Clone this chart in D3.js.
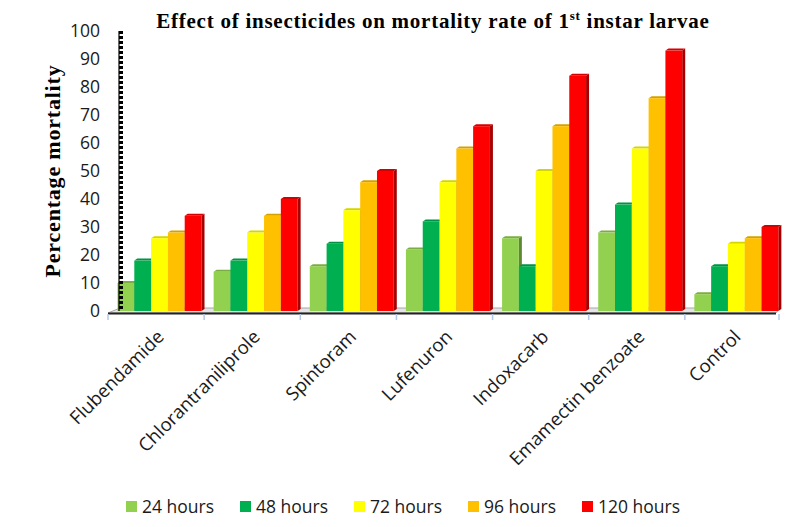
<!DOCTYPE html>
<html>
<head>
<meta charset="utf-8">
<script src="https://cdn.jsdelivr.net/npm/d3@7"></script>
<style>
  body { margin: 0; background: #fff; }
  svg { display: block; }
</style>
</head>
<body>
<script>
// data
const categories = ["Flubendamide", "Chlorantraniliprole", "Spintoram", "Lufenuron", "Indoxacarb", "Emamectin benzoate", "Control"];
const seriesNames = ["24 hours", "48 hours", "72 hours", "96 hours", "120 hours"];
const h24  = [10, 14, 16, 22, 26, 28, 6];
const h48  = [18, 18, 24, 32, 16, 38, 16];
const h72  = [26, 28, 36, 46, 50, 58, 24];
const h96  = [28, 34, 46, 58, 66, 76, 26];
const h120 = [34, 40, 50, 66, 84, 93, 30];
const yTicks = [0, 10, 20, 30, 40, 50, 60, 70, 80, 90, 100];

const seriesVals = [h24, h48, h72, h96, h120];
const colors = ["#92d050", "#00b050", "#ffff00", "#ffc000", "#ff0000"];
const sansFont = "'Open Sans', Lato, sans-serif";
const serifFont = "'Liberation Serif', 'Times New Roman', serif";

const width = 797, height = 527;
const svg = d3.select("body").append("svg")
    .attr("width", width)
    .attr("height", height);

// scales
const x = d3.scaleBand().domain(categories).range([108, 781]);
const xs = d3.scaleBand().domain(seriesNames).range([9.5, 93.5]);
const y = d3.scaleLinear().domain([0, 100]).range([311, 31]);

const dx = 3, dy = -2; // 3d depth

// floor
svg.append("path")
    .attr("d", `M108,313 L120,308 L780,308 L776,313 Z`)
    .attr("fill", "#e4e4e4")
    .attr("stroke", "#a6a6a6")
    .attr("stroke-width", 1);
svg.append("line")
    .attr("x1", 108).attr("x2", 776)
    .attr("y1", 313.5).attr("y2", 313.5)
    .attr("stroke", "#222").attr("stroke-width", 2);

// category ticks
const tickXs = categories.map(c => x(c)).concat([x.range()[1] - 2]);
svg.append("g").selectAll("line")
    .data(tickXs)
    .join("line")
    .attr("x1", d => d).attr("x2", d => d)
    .attr("y1", 314).attr("y2", 320)
    .attr("stroke", "#b4c7e7").attr("stroke-width", 1.5);

// bars
const bars = [];
categories.forEach((c, ci) => {
  seriesNames.forEach((s, si) => {
    bars.push({c, s, si, v: seriesVals[si][ci]});
  });
});

const barG = svg.append("g").selectAll("g.bar").data(bars).join("g").attr("class", "bar");

barG.each(function(d) {
  const sel = d3.select(this);
  const x0 = x(d.c) + xs(d.s);
  const w = xs.bandwidth();
  const yt = y(d.v), yb = y(0);
  const base = d3.color(colors[d.si]);
  // side face
  sel.append("path")
    .attr("d", `M${x0 + w},${yt} L${x0 + w + dx},${yt + dy} L${x0 + w + dx},${yb + dy} L${x0 + w},${yb} Z`)
    .attr("fill", base.darker(1.2));
  // top face
  sel.append("path")
    .attr("d", `M${x0},${yt} L${x0 + dx},${yt + dy} L${x0 + w + dx},${yt + dy} L${x0 + w},${yt} Z`)
    .attr("fill", base.darker(0.5));
  // front
  sel.append("rect")
    .attr("x", x0).attr("y", yt)
    .attr("width", w).attr("height", yb - yt)
    .attr("fill", colors[d.si]);
});

// y axis: thin line + dash ticks
svg.append("line")
    .attr("x1", 119).attr("x2", 119)
    .attr("y1", y(100)).attr("y2", y(0))
    .attr("stroke", "#000").attr("stroke-width", 1.2);
svg.append("line")
    .attr("x1", 121).attr("x2", 121)
    .attr("y1", y(100)).attr("y2", y(0))
    .attr("stroke", "#000").attr("stroke-width", 4)
    .attr("stroke-dasharray", "3,2");

svg.append("g").selectAll("text")
    .data(yTicks)
    .join("text")
    .attr("x", 100)
    .attr("y", d => y(d))
    .attr("dy", "0.36em")
    .attr("text-anchor", "end")
    .attr("font-family", sansFont)
    .attr("font-size", 17.5)
    .attr("fill", "#1a1a1a")
    .text(d => d);

// x labels
svg.append("g").selectAll("text")
    .data(categories)
    .join("text")
    .attr("transform", d => `translate(${x(d) + x.bandwidth() / 2 + 9},${338}) rotate(-45)`)
    .attr("text-anchor", "end")
    .attr("font-family", sansFont)
    .attr("font-size", 18.5)
    .attr("fill", "#1a1a1a")
    .text(d => d);

// y title
svg.append("text")
    .attr("transform", `translate(60,171) rotate(-90)`)
    .attr("text-anchor", "middle")
    .attr("font-family", serifFont)
    .attr("font-weight", "bold")
    .attr("font-size", 22)
    .attr("letter-spacing", 0.8)
    .text("Percentage mortality");

// title
const title = svg.append("text")
    .attr("x", 433).attr("y", 28)
    .attr("text-anchor", "middle")
    .attr("font-family", serifFont)
    .attr("font-weight", "bold")
    .attr("font-size", 21)
    .attr("letter-spacing", 0.75);
title.append("tspan").text("Effect of insecticides on mortality rate of 1");
title.append("tspan").attr("font-size", 13).attr("dy", -8).text("st");
title.append("tspan").attr("dy", 8).text(" instar larvae");

// legend
const legX = [126, 240, 354, 468, 582];
const leg = svg.append("g").selectAll("g")
    .data(seriesNames)
    .join("g")
    .attr("transform", (d, i) => `translate(${legX[i]},501)`);
leg.append("rect")
    .attr("width", 11).attr("height", 11)
    .attr("fill", (d, i) => colors[i]);
leg.append("text")
    .attr("x", 16).attr("y", 5.5)
    .attr("dy", "0.36em")
    .attr("font-family", sansFont)
    .attr("font-size", 17.5)
    .attr("fill", "#1a1a1a")
    .text(d => d);
</script>
</body>
</html>
